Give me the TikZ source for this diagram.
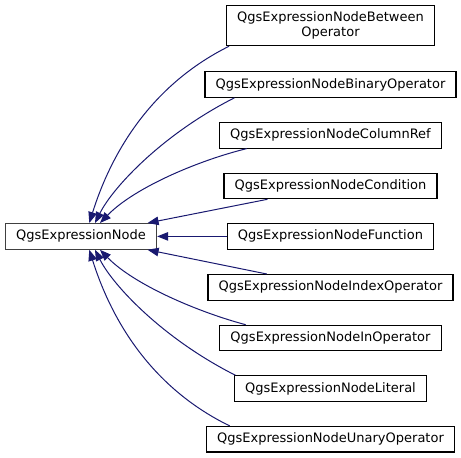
\documentclass[tikz,border=0pt]{standalone}
\usepackage{fontspec}
\setmainfont{DejaVu Sans}
\usetikzlibrary{arrows.meta}
\definecolor{edgeblue}{RGB}{25,25,112}

\begin{document}
\begin{tikzpicture}[x=1pt,y=-1pt,
	cls/.style={draw=black,line width=1.1pt,inner xsep=10.6pt,inner ysep=0pt,minimum height=25.5pt,font=\fontsize{13}{15}\selectfont},
	basecls/.style={cls,draw=black!75,line width=1.3pt},
	inherit/.style={draw=edgeblue,line width=1pt,-{Triangle[length=11pt,width=8.5pt]}}]
	\useasboundingbox (0,0) rectangle (461,458);
	\node[basecls] (base) at (81,236.4) {QgsExpressionNode};
	\node[cls,align=center,minimum height=40pt] (between) at (330.5,25.7) {QgsExpressionNodeBetween\\Operator};
	\node[cls] (binary) at (330.5,84.5) {QgsExpressionNodeBinaryOperator};
	\node[cls] (columnref) at (330.5,135.3) {QgsExpressionNodeColumnRef};
	\node[cls] (condition) at (330.5,186) {QgsExpressionNodeCondition};
	\node[cls] (function) at (330.5,236.4) {QgsExpressionNodeFunction};
	\node[cls] (index) at (330.5,287.3) {QgsExpressionNodeIndexOperator};
	\node[cls] (inop) at (330.5,338) {QgsExpressionNodeInOperator};
	\node[cls] (literal) at (330.5,388.5) {QgsExpressionNodeLiteral};
	\node[cls] (unary) at (330.5,439.2) {QgsExpressionNodeUnaryOperator};
	\draw[inherit] ([xshift=3pt]between.south west) .. controls (145.3,87.9) and (108.7,161.2) .. ([xshift=8.3pt]base.north);
	\draw[inherit] ([xshift=30pt]binary.south west) .. controls (163.7,133.5) and (113.3,186.5) .. ([xshift=14pt]base.north);
	\draw[inherit] ([xshift=27.7pt]columnref.south west) .. controls (200,160) and (135,187) .. ([xshift=19pt]base.north);
	\draw[inherit] ([xshift=44pt]condition.south west) -- ([xshift=-9.5pt]base.north east);
	\draw[inherit] (function.west) -- (base.east);
	\draw[inherit] ([xshift=59.3pt]index.north west) -- ([xshift=-9.5pt]base.south east);
	\draw[inherit] ([xshift=26.3pt]inop.north west) .. controls (200,312.6) and (135,285.6) .. ([xshift=19pt]base.south);
	\draw[inherit] ([xshift=1.3pt]literal.north west) .. controls (163.7,339.1) and (113.3,286.1) .. ([xshift=14pt]base.south);
	\draw[inherit] ([xshift=23.7pt]unary.north west) .. controls (145.3,384.7) and (108.7,311.4) .. ([xshift=8.3pt]base.south);
\end{tikzpicture}
\end{document}
